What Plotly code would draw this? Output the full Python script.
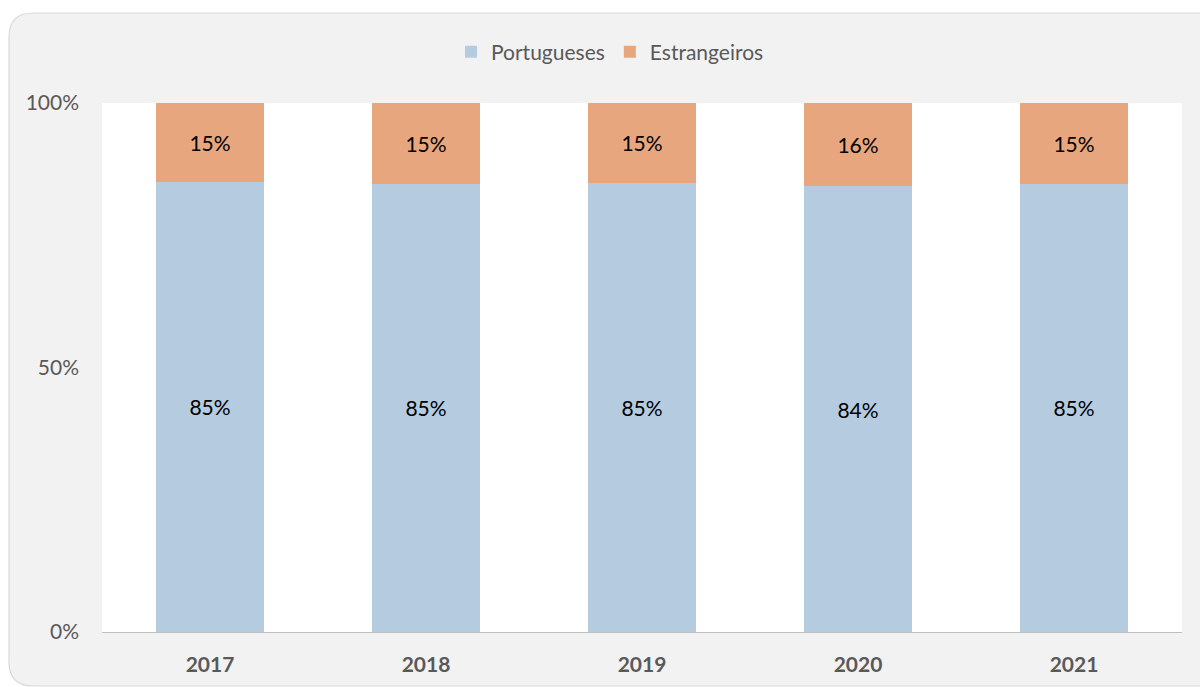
import plotly.graph_objects as go

years = ["2017", "2018", "2019", "2020", "2021"]
portugueses = [85.1, 84.7, 84.9, 84.3, 84.7]
estrangeiros = [14.9, 15.3, 15.1, 15.7, 15.3]
y_ticks = [0, 50, 100]
y_tick_labels = ["0%", "50%", "100%"]

W, H = 1200, 687
L, R, T, B = 102, 18, 103, 55
PW, PH = W - L - R, H - T - B

def px(x):
    return (x - L) / PW

def py(y):
    return (H - B - y) / PH

FONT = "Lato"
FS = 21
GRAY = "#595959"

fig = go.Figure()
fig.add_trace(go.Bar(
    x=years, y=portugueses, name="Portugueses",
    marker=dict(color="#b4cbe0", line=dict(width=0)),
    texttemplate="%{y:.0f}%", textposition="inside", insidetextanchor="middle",
    textangle=0, constraintext="none",
    textfont=dict(family=FONT, size=FS, color="#000000"),
    hoverinfo="skip",
))
fig.add_trace(go.Bar(
    x=years, y=estrangeiros, name="Estrangeiros",
    marker=dict(color="#e8a67e", line=dict(width=0)),
    texttemplate="%{y:.0f}%", textposition="inside", insidetextanchor="middle",
    textangle=0, constraintext="none",
    textfont=dict(family=FONT, size=FS, color="#000000"),
    hoverinfo="skip",
))

# outer rounded panel
x0, x1 = px(9), px(1215)
y0, y1 = py(686), py(13)
rx, ry = 24 / PW, 24 / PH
path = (
    f"M {x0+rx},{y0} "
    f"Q {x0},{y0} {x0},{y0+ry} "
    f"L {x0},{y1-ry} "
    f"Q {x0},{y1} {x0+rx},{y1} "
    f"L {x1},{y1} L {x1},{y0} Z"
)
shapes = [
    dict(type="path", xref="paper", yref="paper", path=path,
         fillcolor="#f2f2f2", line=dict(color="#d9d9d9", width=1.2), layer="below"),
    dict(type="rect", xref="paper", yref="paper", x0=0, x1=1, y0=0, y1=1,
         fillcolor="#ffffff", line=dict(width=0), layer="below"),
]

fig.update_layout(
    width=W, height=H,
    margin=dict(l=L, r=R, t=T, b=B),
    barmode="stack", bargap=0.5,
    paper_bgcolor="#ffffff", plot_bgcolor="#ffffff",
    font=dict(family=FONT, size=FS, color=GRAY),
    shapes=shapes,
    showlegend=True,
    legend=dict(orientation="h", x=px(610), xanchor="center", y=py(52), yanchor="middle",
                font=dict(family=FONT, size=FS, color=GRAY), bgcolor="rgba(0,0,0,0)",
                traceorder="normal", itemwidth=30),
    xaxis=dict(showgrid=False, zeroline=False, showline=True, linecolor="#bfbfbf", linewidth=1,
               ticks="", tickfont=dict(family=FONT, size=FS, color=GRAY, weight="bold"),
               ticklabelstandoff=14, fixedrange=True),
    yaxis=dict(range=[0, 100], tickvals=y_ticks, ticktext=y_tick_labels, showgrid=False,
               zeroline=False, showline=False, ticks="",
               tickfont=dict(family=FONT, size=FS, color=GRAY),
               ticklabelstandoff=22, fixedrange=True),
)

fig.write_html("out.html", config={"displayModeBar": False},
               post_script="document.body.style.margin='0';document.body.style.overflow='hidden';")
